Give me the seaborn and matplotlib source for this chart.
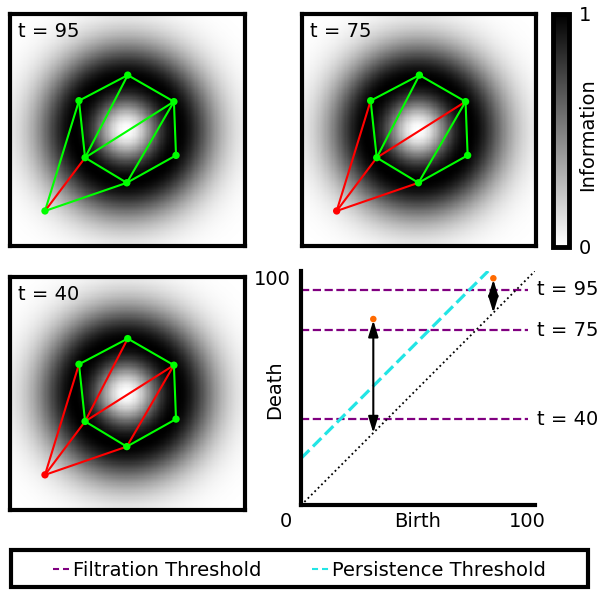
import numpy as np
import matplotlib
matplotlib.use("Agg")
import matplotlib.pyplot as plt
import seaborn as sns
from matplotlib.lines import Line2D
from matplotlib.patches import Rectangle

sns.set_style("white")
plt.rcParams['font.family'] = ['DejaVu Sans']
plt.rcParams['text.color'] = 'black'
plt.rcParams['axes.labelcolor'] = 'black'
plt.rcParams['xtick.color'] = 'black'
plt.rcParams['ytick.color'] = 'black'

# ---------------- data ----------------
panel_labels = ["t = 95", "t = 75", "t = 40"]
vertex_names = ["A", "B", "C", "D", "E", "F", "G"]
vertex_x = [50.1, 69.8, 70.7, 49.7, 31.9, 29.3, 14.8]
vertex_y = [73.6, 62.2, 39.1, 27.3, 38.1, 62.6, 15.2]
edges = [("A", "B"), ("B", "C"), ("C", "D"), ("D", "E"), ("E", "F"), ("F", "A"),
         ("A", "E"), ("E", "B"), ("B", "D"), ("G", "F"), ("G", "E"), ("G", "D")]
red_edges_95 = [("G", "E")]
red_edges_75 = [("E", "B"), ("G", "F"), ("G", "E"), ("G", "D")]
red_edges_40 = [("A", "E"), ("E", "B"), ("B", "D"), ("G", "F"), ("G", "E"), ("G", "D")]
red_vertices_95 = []
red_vertices_75 = ["G"]
red_vertices_40 = ["G"]

# information field: ring around the centre (peak radius, centre)
ring_center = (49.5, 50.0)
ring_radius = 22.0
GRID = 200

# persistence diagram
births = [30.9, 82.2]
deaths = [79.5, 96.9]
filtration_levels = [91.9, 74.8, 36.8]
filtration_labels = ["t = 95", "t = 75", "t = 40"]
persistence_offset = 20.0
persistence_x = [0, 80]
filtration_x = [0, 97]
diag_x = [0, 100]
legend_labels = ["Filtration Threshold", "Persistence Threshold"]

GREEN = "#00ff00"
RED = "#ff0000"
PURPLE = "#800080"
CYAN = "#22e5e5"
ORANGE = "#ff6a00"

# ---------------- figure ----------------
W, H = 599, 591
fig = plt.figure(figsize=(W / 100, H / 100), dpi=100)


def px_axes(x0, y0, x1, y1):
    return fig.add_axes([x0 / W, 1 - y1 / H, (x1 - x0) / W, (y1 - y0) / H])


ax_tl = px_axes(10.3, 13.7, 244.7, 246.3)
ax_tr = px_axes(302.0, 13.7, 536.3, 246.3)
ax_bl = px_axes(10.3, 277.0, 244.7, 510.3)
ax_pd = px_axes(301.0, 271.0, 535.0, 505.3)
cax = px_axes(552.5, 13.5, 569.0, 246.5)

# field
c = (np.arange(GRID) + 0.5) * 100.0 / GRID
XX, YY = np.meshgrid(c, c)
R = np.hypot(XX - ring_center[0], YY - ring_center[1]) / ring_radius
field = R ** 2 * np.exp(1 - R ** 2)

S = GRID / 100.0
vx = dict(zip(vertex_names, vertex_x))
vy = dict(zip(vertex_names, vertex_y))

panels = [
    (ax_tl, panel_labels[0], red_edges_95, red_vertices_95),
    (ax_tr, panel_labels[1], red_edges_75, red_vertices_75),
    (ax_bl, panel_labels[2], red_edges_40, red_vertices_40),
]

for i, (ax, lab, red_e, red_v) in enumerate(panels):
    sns.heatmap(field, ax=ax, cmap="gray_r", vmin=0, vmax=1,
                cbar=(i == 0), cbar_ax=cax if i == 0 else None,
                xticklabels=False, yticklabels=False)
    ax.set_ylim(0, GRID)
    ax.set_xlim(0, GRID)
    for sp in ax.spines.values():
        sp.set_visible(True)
        sp.set_linewidth(3)
        sp.set_color("black")
    red_set = set(frozenset(e) for e in red_e)
    for e in edges:
        col = RED if frozenset(e) in red_set else GREEN
        ax.plot([vx[e[0]] * S, vx[e[1]] * S], [vy[e[0]] * S, vy[e[1]] * S],
                color=col, lw=1.5, solid_capstyle="round", zorder=3)
    vcols = [RED if n in red_v else GREEN for n in vertex_names]
    sns.scatterplot(x=np.array(vertex_x) * S, y=np.array(vertex_y) * S, ax=ax,
                    color=vcols, s=28, edgecolor="none", zorder=4, legend=False)
    ax.set_xlabel("")
    ax.set_ylabel("")
    ax.text(0.034, 0.9, lab, transform=ax.transAxes, fontsize=14,
            ha="left", va="baseline", color="black", zorder=5)

cbar = ax_tl.collections[0].colorbar
cbar.outline.set_linewidth(3.5)
cbar.outline.set_edgecolor("black")
cbar.set_ticks([0, 1])
cbar.set_ticklabels(["0", "1"])
cbar.ax.tick_params(length=0, labelsize=14, pad=7, labelcolor="black")
fig.text(587.5 / W, 1 - 135 / H, "Information", rotation=90, fontsize=14,
         ha="center", va="center", color="black")

# persistence diagram
ax = ax_pd
for lvl, lab in zip(filtration_levels, filtration_labels):
    ax.plot(filtration_x, [lvl, lvl], color=PURPLE, lw=1.6, ls="--", zorder=2)
    ax.text(101, lvl, lab, fontsize=14, ha="left", va="center", clip_on=False)
ax.plot(persistence_x, [x + persistence_offset for x in persistence_x],
        color=CYAN, lw=2.3, ls="--", zorder=2)
ax.plot(diag_x, diag_x, color="black", lw=1.3, ls=":", zorder=2)
for b, d in zip(births, deaths):
    ax.annotate("", xy=(b, d), xytext=(b, b),
                arrowprops=dict(arrowstyle="<|-|>,head_length=0.65,head_width=0.2",
                                color="black", lw=1.5, shrinkA=0, shrinkB=1,
                                mutation_scale=15), zorder=3)
sns.scatterplot(x=births, y=deaths, ax=ax, color=ORANGE, s=22,
                edgecolor="none", zorder=5, legend=False)
ax.set_xlim(0, 100)
ax.set_ylim(0, 100)
ax.set_xticks([])
ax.set_yticks([])
ax.set_xlabel("")
ax.set_ylabel("")
for k in ["top", "right"]:
    ax.spines[k].set_visible(False)
for k in ["left", "bottom"]:
    ax.spines[k].set_visible(True)
    ax.spines[k].set_linewidth(3)
    ax.spines[k].set_color("black")
ax.text(-6.5, -6.8, "0", fontsize=14, ha="center", va="center", clip_on=False)
ax.text(96.6, -6.8, "100", fontsize=14, ha="center", va="center", clip_on=False)
ax.text(-12.4, 96.2, "100", fontsize=14, ha="center", va="center", clip_on=False)
ax.text(50, -6.8, "Birth", fontsize=14, ha="center", va="center", clip_on=False)
ax.text(-11.1, 49.2, "Death", fontsize=14, ha="center", va="center",
        rotation=90, clip_on=False)

# legend box
fig.patches.append(Rectangle((11 / W, 1 - 587.3 / H), 577 / W, 37 / H,
                             transform=fig.transFigure, fill=False,
                             edgecolor="black", lw=3))
handles = [Line2D([], [], color=PURPLE, ls=(0, (2.9, 1.9)), lw=1.5),
           Line2D([], [], color=CYAN, ls=(0, (2.9, 1.9)), lw=1.5)]
fig.legend(handles, legend_labels, loc="center", ncol=2,
           bbox_to_anchor=(0.5, 1 - 570 / H), frameon=False, fontsize=14,
           handlelength=0.85, handletextpad=0.2, columnspacing=2.6,
           labelcolor="black")

fig.savefig("out.png", dpi=100)
